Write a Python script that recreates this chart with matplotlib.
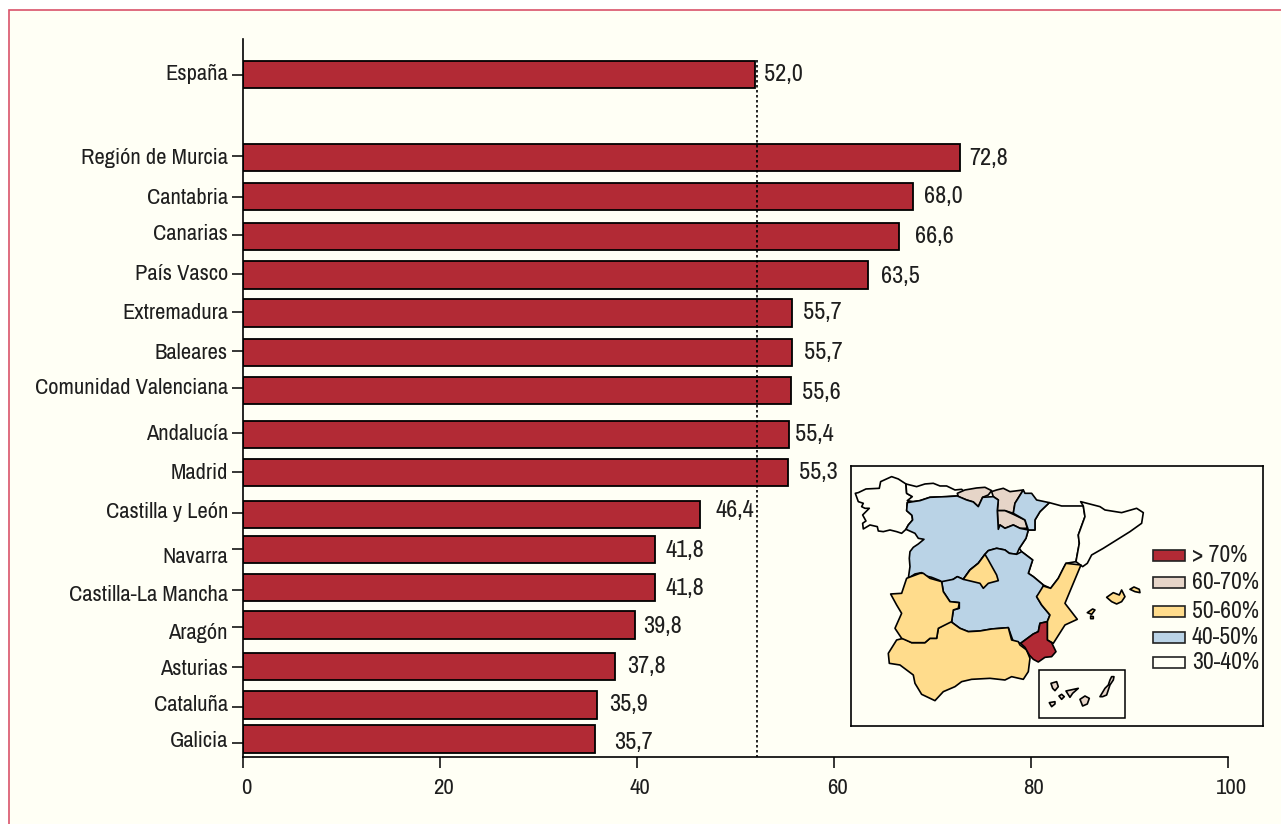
import matplotlib
matplotlib.use('Agg')
import matplotlib.pyplot as plt
import matplotlib.transforms as mtrans
from matplotlib.patches import Polygon, Rectangle

W, H = 1281, 824
plt.rcParams['font.family'] = ['Archivo Narrow', 'Roboto Condensed', 'Liberation Sans', 'DejaVu Sans']

regiones = ['España', 'Región de Murcia', 'Cantabria', 'Canarias', 'País Vasco', 'Extremadura',
            'Baleares', 'Comunidad Valenciana', 'Andalucía', 'Madrid', 'Castilla y León',
            'Navarra', 'Castilla-La Mancha', 'Aragón', 'Asturias', 'Cataluña', 'Galicia']
valores = [52.0, 72.8, 68.0, 66.6, 63.5, 55.7, 55.7, 55.6, 55.4, 55.3, 46.4, 41.8, 41.8, 39.8, 37.8, 35.9, 35.7]
media = 52.2
xticks = [0, 20, 40, 60, 80, 100]

# y de las barras, marcas y textos, en pixeles de la imagen
bar_y = [74.3, 157.8, 196.5, 236.7, 275, 313, 352.2, 390.7, 434.2, 472.3, 514.2, 549.8, 587.3, 625, 666.3, 705, 739]
tick_y = [75.3, 156, 196.7, 235.3, 274, 311.7, 351, 388.3, 433.3, 472.3, 513.3, 549.3, 590, 627.3, 666.7, 706.7, 743.3]
label_y = [73, 157, 197, 233, 273, 312, 352, 387, 433, 472, 511, 556, 594, 632, 668, 704, 740]
valor_y = [73, 157, 196, 236, 275, 312, 351, 391, 433, 472, 510, 549, 587, 625, 665, 704, 741]
valor_dx = [9, 9, 11, 15.5, 13, 11, 12, 11, 6, 11, 15.5, 11, 11, 8.5, 12, 13, 19]

rojo = '#B22A35'
beige = '#E6D5C8'
amarillo = '#FFDC8C'
azul = '#BAD3E6'
fondo = '#FFFFF5'
texto = '#1E1E1E'

# contornos del mapa, en pixeles del recorte del mapa (3x)
galicia = [(16,100),(25,98),(48,87),(88,85),(92,65),(125,50),(145,57),(168,72),(170,100),(187,110),(172,128),(170,152),(186,166),(188,180),(175,195),(168,208),(155,220),(140,215),(120,210),(100,215),(85,213),(82,200),(60,195),(40,207),(38,190),(48,183),(38,165),(58,145),(45,145),(35,140),(40,130),(25,125)]
asturias = [(168,72),(200,80),(225,72),(250,70),(270,78),(290,78),(315,90),(335,88),(345,97),(322,108),(290,110),(240,112),(210,122),(190,125),(172,122),(187,110),(170,100)]
cantabria = [(322,100),(345,90),(380,84),(405,82),(425,92),(415,105),(398,112),(385,140),(370,126),(350,120),(325,110)]
pais_vasco = [(425,95),(440,90),(460,85),(480,95),(520,90),(495,130),(490,160),(465,152),(442,152),(445,120),(430,110)]
rioja = [(442,152),(465,152),(490,163),(525,180),(532,205),(510,205),(490,195),(465,205),(450,195),(445,208)]
navarra = [(520,90),(525,100),(545,100),(560,120),(598,128),(570,155),(555,180),(555,210),(535,210),(525,180),(490,160),(495,130)]
cyl = [(172,128),(190,125),(210,122),(240,112),(290,110),(322,108),(350,120),(370,126),(385,140),(398,112),(430,110),(445,120),(442,152),(445,208),(450,195),(465,205),(490,195),(510,205),(535,210),(528,235),(508,265),(500,283),(478,280),(465,270),(440,265),(415,272),(405,283),(385,310),(360,330),(340,358),(322,350),(310,358),(278,370),(270,362),(245,352),(228,348),(215,338),(195,342),(175,355),(180,320),(178,295),(180,275),(190,262),(205,252),(222,238),(205,235),(195,220),(168,208),(175,195),(188,180),(186,166),(170,152)]
clm = [(405,283),(415,272),(440,265),(465,270),(478,280),(500,283),(515,275),(548,300),(535,340),(550,350),(580,375),(575,395),(560,410),(575,435),(600,465),(592,485),(570,490),(565,515),(550,522),(512,550),(490,545),(475,503),(425,507),(390,513),(355,515),(330,505),(300,483),(305,485),(310,450),(328,445),(328,428),(300,425),(280,395),(275,365),(310,358),(322,350),(340,358),(360,330),(385,310)]
madrid = [(405,283),(415,300),(440,345),(445,362),(415,370),(400,385),(390,370),(340,358),(360,330),(385,310)]
aragon = [(598,128),(635,138),(700,138),(705,170),(685,225),(688,250),(678,305),(648,310),(625,355),(602,385),(580,375),(550,350),(535,340),(548,300),(515,275),(508,265),(528,235),(535,210),(555,210),(555,180),(570,155)]
cataluna = [(692,125),(750,140),(765,150),(815,158),(860,145),(880,158),(875,190),(840,215),(800,240),(760,265),(725,285),(712,310),(698,320),(678,305),(688,250),(685,225),(705,170),(700,138)]
valencia = [(648,310),(693,315),(670,370),(645,430),(682,478),(645,495),(610,550),(592,540),(592,485),(600,465),(575,435),(560,410),(580,378),(602,385),(625,355),(640,325)]
murcia = [(570,490),(592,485),(592,540),(605,548),(618,575),(605,590),(585,592),(565,606),(550,598),(538,585),(525,562),(512,550),(550,522),(565,515)]
andalucia = [(300,483),(330,505),(355,515),(390,513),(425,507),(475,503),(485,540),(505,545),(510,555),(530,570),(540,595),(535,635),(520,658),(485,650),(465,660),(420,655),(365,658),(335,665),(315,680),(280,695),(255,722),(215,703),(195,670),(190,645),(150,615),(118,610),(115,580),(140,540),(160,535),(185,548),(225,548),(240,535),(260,535),(265,505)]
extremadura = [(210,340),(220,340),(240,355),(275,365),(280,395),(300,425),(328,428),(325,445),(310,450),(305,485),(265,505),(260,535),(240,535),(225,548),(185,548),(155,535),(135,505),(155,460),(140,435),(122,402),(155,400),(170,355)]
mallorca = [(770,412),(790,398),(808,405),(815,390),(825,410),(815,425),(800,432),(785,425)]
menorca = [(840,388),(852,381),(868,388),(870,398),(855,395)]
ibiza = [(712,458),(728,447),(735,450),(725,463)]
formentera = [(722,468),(730,470),(730,476),(722,476)]
la_palma = [(603,670),(620,665),(625,680),(615,692),(608,685)]
gomera = [(627,708),(635,703),(643,710),(635,718)]
hierro = [(598,728),(615,725),(615,732),(605,740)]
tenerife = [(648,693),(685,685),(668,700),(660,712)]
gran_canaria = [(690,718),(705,708),(718,715),(712,732),(698,738)]
fuerteventura = [(750,710),(765,685),(775,675),(780,660),(785,650),(792,650),(790,660),(780,675),(770,705),(758,710)]

mapa = [(galicia, fondo), (asturias, fondo), (aragon, fondo), (cataluna, fondo),
        (cantabria, beige), (pais_vasco, beige), (rioja, beige),
        (navarra, azul), (cyl, azul), (clm, azul),
        (madrid, amarillo), (valencia, amarillo), (andalucia, amarillo), (extremadura, amarillo),
        (mallorca, amarillo), (menorca, amarillo), (ibiza, amarillo), (formentera, amarillo),
        (murcia, rojo),
        (la_palma, beige), (gomera, beige), (hierro, beige), (tenerife, beige),
        (gran_canaria, beige), (fuerteventura, beige)]

leyenda_txt = ['> 70%', '60-70%', '50-60%', '40-50%', '30-40%']
leyenda_col = [rojo, beige, amarillo, azul, fondo]
leyenda_y = [270, 350, 437, 515, 590]


def caja(x0, y0, x1, y1):
    # [left, bottom, width, height] desde pixeles de la imagen
    return [x0 / W, 1 - y1 / H, (x1 - x0) / W, (y1 - y0) / H]


fig = plt.figure(figsize=(W / 100, H / 100), dpi=100, facecolor='white')

# fondo de la pagina, queda por debajo de los ejes
ax_fondo = fig.add_axes([0, 0, 1, 1], zorder=-1)
ax_fondo.set_xlim(0, W)
ax_fondo.set_ylim(H, 0)
ax_fondo.axis('off')
ax_fondo.add_patch(Rectangle((9, 10), 1300, 830, facecolor=fondo, edgecolor='#D9536A', linewidth=1.2))

# grafico de barras
ax = fig.add_axes(caja(243, 39, 243 + 985, 757))
ax.set_facecolor('none')
ax.set_xlim(0, 100)
ax.set_ylim(757, 39)
ax.barh(bar_y, valores, height=27.3, color=rojo, edgecolor='black', linewidth=1.3, zorder=2)
ax.plot([media, media], [60, 757], color='black', linewidth=1.2, linestyle=(0, (1.5, 1.5)), zorder=3)

for s in ['top', 'right']:
    ax.spines[s].set_visible(False)
ax.spines['left'].set_linewidth(1.2)
ax.spines['bottom'].set_linewidth(1.2)
ax.set_xticks(xticks)
ax.set_xticklabels([str(t) for t in xticks], fontsize=16.5, color=texto)
ax.tick_params(axis='x', length=8, width=1.1, pad=7)
desplaza = mtrans.ScaledTranslation(3 / 100, 0, fig.dpi_scale_trans)
for lab in ax.get_xticklabels():
    lab.set_transform(lab.get_transform() + desplaza)
ax.set_yticks(tick_y)
ax.set_yticklabels([])
ax.tick_params(axis='y', length=8, width=1.1)

for i in range(len(regiones)):
    ax.annotate(regiones[i], (0, label_y[i]), xytext=(-15, -1), textcoords='offset pixels',
                ha='right', va='center', fontsize=16.2, color=texto)
    ax.annotate(('%.1f' % valores[i]).replace('.', ','), (valores[i], valor_y[i]), xytext=(valor_dx[i], -1),
                textcoords='offset pixels', ha='left', va='center', fontsize=17.5, color=texto, zorder=5)

# mapa con leyenda
am = fig.add_axes(caja(851.3, 466.3, 1263.3, 726))
am.set_xlim(4, 1240)
am.set_ylim(798, 19)
am.set_facecolor(fondo)
am.set_xticks([])
am.set_yticks([])
for s in am.spines.values():
    s.set_linewidth(1.2)
for forma, color in mapa:
    am.add_patch(Polygon(forma, closed=True, facecolor=color, edgecolor='black', linewidth=1.2, joinstyle='round'))
am.add_patch(Rectangle((567, 630), 258, 143, facecolor='none', edgecolor='black', linewidth=1.1))
for i in range(len(leyenda_txt)):
    am.add_patch(Rectangle((908, leyenda_y[i]), 97, 33, facecolor=leyenda_col[i], edgecolor='#222222', linewidth=1.2))
    am.text(1025, leyenda_y[i] + 17, leyenda_txt[i], ha='left', va='center', fontsize=17, color=texto)

fig.savefig('out.png', dpi=100)
